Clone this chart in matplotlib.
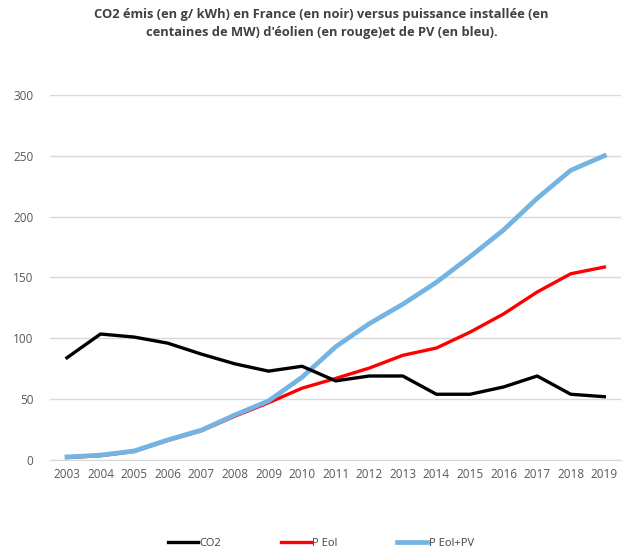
import matplotlib
matplotlib.use("Agg")
import matplotlib.pyplot as plt
import numpy as np

years = [str(y) for y in range(2003, 2020)]
co2 = [84, 103.5, 101, 96, 87, 79, 73, 77, 65, 69, 69, 54, 54, 60, 69, 54, 52]
p_eol = [2, 3.5, 7, 16, 24, 36, 47, 59, 67, 75.5, 86, 92, 105, 120, 138, 153, 158.5]
p_eol_pv = [2.5, 4, 7.4, 16.5, 24.5, 37, 48.5, 68, 93, 112, 128, 146, 167, 189, 215, 238, 250]

plt.rcParams['font.family'] = ['Open Sans', 'DejaVu Sans']

fig = plt.figure(figsize=(6.43, 5.6), dpi=100)
ax = fig.add_axes([0.078, 0.1786, 0.888, 0.652])

x = np.arange(len(years))
ax.plot(x, p_eol, color='#FF0000', lw=2.4, label='P Eol', zorder=3)
ax.plot(x, p_eol_pv, color='#74B4E2', lw=3.4, label='P Eol+PV', zorder=4)
ax.plot(x, co2, color='black', lw=2.4, label='CO2', zorder=5)

ax.set_xlim(-0.5, len(years) - 0.5)
ax.set_ylim(0, 300)
ax.set_yticks(range(0, 301, 50))
ax.set_xticks(x)
ax.set_xticklabels(years)
ax.yaxis.grid(True, color='#D9D9D9', lw=1)
ax.set_axisbelow(True)
for s in ['top', 'right', 'left']:
    ax.spines[s].set_visible(False)
ax.spines['bottom'].set_color('#D9D9D9')
ax.tick_params(length=0, colors='#595959', labelsize=8.5)
ax.tick_params(axis='y', pad=12)
ax.tick_params(axis='x', pad=6)

fig.suptitle("CO2 émis (en g/ kWh) en France (en noir) versus puissance installée (en\n"
             "centaines de MW) d'éolien (en rouge)et de PV (en bleu).",
             y=0.985, fontsize=9.3, fontweight='bold', color='#404040', linespacing=1.45)

h, l = ax.get_legend_handles_labels()
order = [2, 0, 1]
fig.legend([h[i] for i in order], [l[i] for i in order], loc='center', bbox_to_anchor=(0.499, 0.03),
           ncol=3, frameon=False, fontsize=8, labelcolor='#404040',
           handlelength=2.7, handletextpad=0.1, columnspacing=5.4)

fig.savefig('out.png', dpi=100)
